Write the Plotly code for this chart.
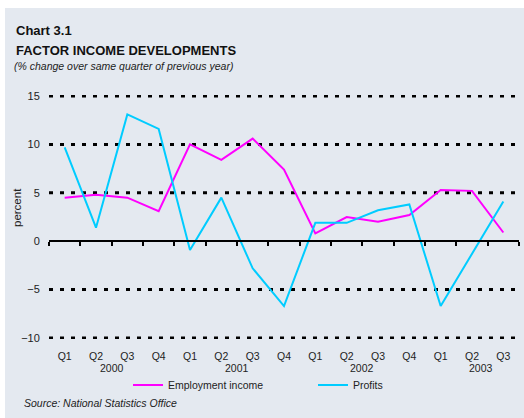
import plotly.graph_objects as go

quarters = ["Q1", "Q2", "Q3", "Q4", "Q1", "Q2", "Q3", "Q4",
            "Q1", "Q2", "Q3", "Q4", "Q1", "Q2", "Q3"]
years = ["2000", "2001", "2002", "2003"]
year_pos = [1.5, 5.5, 9.5, 13.3]
employment_income = [4.5, 4.8, 4.5, 3.1, 10.0, 8.4, 10.6, 7.4,
                     0.8, 2.5, 2.0, 2.7, 5.3, 5.2, 0.9]
profits = [9.7, 1.4, 13.1, 11.6, -0.9, 4.5, -2.8, -6.7,
           1.9, 1.9, 3.2, 3.8, -6.7, -1.3, 4.1]
y_ticks = [-10, -5, 0, 5, 10, 15]
y_range = [-10.1, 15.1]

FONT = "Liberation Sans, Arial, sans-serif"
PANEL = "#e4e9f0"
MAGENTA = "#ff00ff"
CYAN = "#00ccff"

x = list(range(len(quarters)))
boundaries = [i - 0.5 for i in range(len(quarters) + 1)]

W, H = 524, 418
ML, MR, MT, MB = 49, 5, 95, 79
PW, PH = W - ML - MR, H - MT - MB


def px_x(p):
    return (p - ML) / PW


def px_y(p):
    return (H - MB - p) / PH


fig = go.Figure()
fig.add_trace(go.Scatter(x=x, y=employment_income, mode="lines", name="Employment income",
                         line=dict(color=MAGENTA, width=2)))
fig.add_trace(go.Scatter(x=x, y=profits, mode="lines", name="Profits",
                         line=dict(color=CYAN, width=2)))
# invisible trace to carry the zero-line axis with ticks
fig.add_trace(go.Scatter(x=[boundaries[0], boundaries[-1]], y=[0, 0], xaxis="x2", mode="lines",
                         line=dict(width=0, color="rgba(0,0,0,0)"), showlegend=False, hoverinfo="skip"))

shapes = [dict(type="rect", xref="paper", yref="paper", x0=px_x(5), x1=px_x(W + 5),
               y0=px_y(H + 5), y1=px_y(8), fillcolor=PANEL, line=dict(width=0), layer="below")]
for v in y_ticks:
    if v == 0:
        continue
    shapes.append(dict(type="line", xref="paper", x0=0, x1=1, yref="y", y0=v, y1=v,
                       line=dict(color="black", width=3, dash="4px,7px"), layer="below"))

fig.update_layout(
    width=W, height=H,
    margin=dict(l=ML, r=MR, t=MT, b=MB),
    paper_bgcolor="white",
    plot_bgcolor="rgba(0,0,0,0)",
    font=dict(family=FONT, size=11, color="#222"),
    showlegend=True,
    legend=dict(orientation="h", x=px_x(128), xanchor="left", y=px_y(385), yanchor="middle",
                bgcolor="rgba(0,0,0,0)", font=dict(size=10.5, color="#222"),
                entrywidth=140, entrywidthmode="pixels", itemwidth=30),
    xaxis=dict(range=[boundaries[0], boundaries[-1]], tickvals=x, ticktext=quarters,
               showgrid=False, zeroline=False, showline=False,
               ticks="outside", ticklen=7, tickcolor="rgba(0,0,0,0)",
               tickfont=dict(size=10.5, color="#222")),
    xaxis2=dict(range=[boundaries[0], boundaries[-1]], overlaying="x", anchor="free",
                position=(0 - y_range[0]) / (y_range[1] - y_range[0]), side="bottom",
                showline=True, linecolor="black", linewidth=2,
                ticks="outside", ticklen=4, tickwidth=2, tickcolor="black",
                tickvals=boundaries, showticklabels=False, showgrid=False, zeroline=False),
    yaxis=dict(range=y_range, tickvals=y_ticks, showgrid=False, zeroline=False, showline=False,
               ticks="outside", ticklen=6, tickcolor="rgba(0,0,0,0)",
               tickfont=dict(size=11, color="#222")),
    shapes=shapes,
)

ann = []
for yr, p in zip(years, year_pos):
    ann.append(dict(text=yr, x=p, xref="x", y=px_y(368), yref="paper",
                    showarrow=False, xanchor="center", yanchor="middle",
                    font=dict(size=10.5, color="#222")))
ann.append(dict(text="percent", textangle=-90, x=px_x(17), xref="paper",
                y=px_y(208), yref="paper", showarrow=False,
                xanchor="center", yanchor="middle", font=dict(size=11.5, color="#222")))
ann.append(dict(text="<b>Chart 3.1</b>", x=px_x(14), xref="paper", y=px_y(31),
                yref="paper", showarrow=False, xanchor="left", yanchor="middle",
                font=dict(size=13, color="#111")))
ann.append(dict(text="<b>FACTOR INCOME DEVELOPMENTS</b>", x=px_x(14), xref="paper",
                y=px_y(50.5), yref="paper", showarrow=False, xanchor="left",
                yanchor="middle", font=dict(size=13, color="#111")))
ann.append(dict(text="<i>(% change over same quarter of previous year)</i>", x=px_x(12),
                xref="paper", y=px_y(66), yref="paper", showarrow=False,
                xanchor="left", yanchor="middle", font=dict(size=10.5, color="#222")))
ann.append(dict(text="<i>Source: National Statistics Office</i>", x=px_x(22), xref="paper",
                y=px_y(403), yref="paper", showarrow=False, xanchor="left",
                yanchor="middle", font=dict(size=10.5, color="#222")))
fig.update_layout(annotations=ann)

fig.write_html("out.html")
